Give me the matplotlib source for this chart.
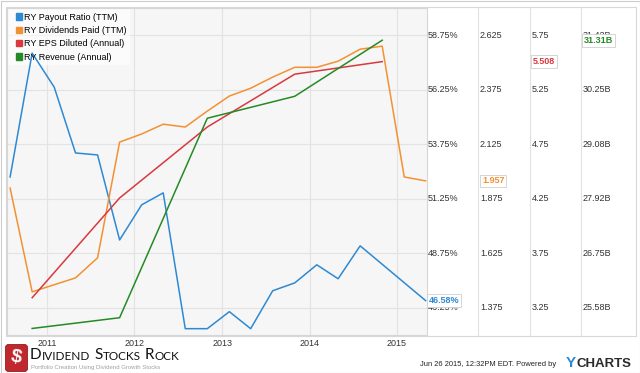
import numpy as np
import matplotlib.pyplot as plt
from matplotlib.patches import Patch, Rectangle, FancyBboxPatch
from matplotlib.transforms import blended_transform_factory

plt.rcParams['font.family'] = ['Liberation Sans', 'DejaVu Sans']

# quarterly payout ratio (%)
payout_dates = np.array(['2010-07-31', '2010-10-31', '2011-01-31', '2011-04-30', '2011-07-31',
                         '2011-10-31', '2012-01-31', '2012-04-30', '2012-07-31', '2012-10-31',
                         '2013-01-31', '2013-04-30', '2013-07-31', '2013-10-31', '2014-01-31',
                         '2014-04-30', '2014-07-31', '2015-04-30'], dtype='datetime64[D]')
payout = [52.25, 57.93, 56.37, 53.35, 53.26, 49.36, 50.97, 51.52, 45.29, 45.29,
          46.07, 45.29, 47.03, 47.39, 48.22, 47.58, 49.09, 46.58]

# dividends paid TTM
div_dates = np.array(['2010-07-31', '2010-10-31', '2011-04-30', '2011-07-31', '2011-10-31',
                      '2012-01-31', '2012-04-30', '2012-07-31', '2012-10-31', '2013-01-31',
                      '2013-04-30', '2013-07-31', '2013-10-31', '2014-01-31', '2014-04-30',
                      '2014-07-31', '2014-10-31', '2015-01-31', '2015-04-30'], dtype='datetime64[D]')
dividends = [1.924, 1.448, 1.512, 1.604, 2.135, 2.172, 2.217, 2.204, 2.277, 2.346,
             2.382, 2.433, 2.478, 2.478, 2.506, 2.561, 2.575, 1.975, 1.957]

# annual EPS and revenue (billions)
annual_dates = np.array(['2010-10-31', '2011-10-31', '2012-10-31', '2013-10-31', '2014-10-31'],
                        dtype='datetime64[D]')
eps = [3.342, 4.257, 4.908, 5.393, 5.508]
revenue = [25.14, 25.37, 29.64, 30.11, 31.31]

pct_ticks = [46.25, 48.75, 51.25, 53.75, 56.25, 58.75]
div_ticks = [1.375, 1.625, 1.875, 2.125, 2.375, 2.625]
eps_ticks = [3.25, 3.75, 4.25, 4.75, 5.25, 5.75]
rev_ticks = [25.58, 26.75, 27.92, 29.08, 30.25, 31.42]
years = ['2011', '2012', '2013', '2014', '2015']

labels = ['RY Payout Ratio (TTM)', 'RY Dividends Paid (TTM)', 'RY EPS Diluted (Annual)',
          'RY Revenue (Annual)']
colors = ['#2e89d3', '#f39132', '#d8393f', '#258a25']

W, H = 640, 373
fig = plt.figure(figsize=(6.4, 3.73), dpi=100)
fig.patch.set_facecolor('white')

L, R, T, B = 7, 427, 8, 335
ax = fig.add_axes([L / W, 1 - B / H, (R - L) / W, (B - T) / H])
ax.set_facecolor('#f6f6f6')
ax.set_axisbelow(True)

ax.plot(payout_dates, payout, color=colors[0], lw=1.1, zorder=3)
ax.set_ylim(45, 60)
ax.set_xlim(np.datetime64('2010-07-18'), np.datetime64('2015-05-06'))

ax_div = ax.twinx()
ax_div.plot(div_dates, dividends, color=colors[1], lw=1.1)
ax_div.set_ylim(1.25, 2.75)
ax_eps = ax.twinx()
ax_eps.plot(annual_dates, eps, color=colors[2], lw=1.1)
ax_eps.set_ylim(3.0, 6.0)
ax_rev = ax.twinx()
ax_rev.plot(annual_dates, revenue, color=colors[3], lw=1.1)
ax_rev.set_ylim(25.0, 32.0)
for t in (ax_div, ax_eps, ax_rev):
    t.set_axis_off()

ax.set_yticks(pct_ticks)
ax.tick_params(axis='y', left=False, labelleft=False)
ax.set_xticks([np.datetime64(y + '-01-01') for y in years])
ax.set_xticklabels(years)
ax.tick_params(axis='x', length=0, pad=3, labelsize=6.5, labelcolor='#333333')
ax.grid(True, color='#e3e3e3', lw=0.8)
for s in ax.spines.values():
    s.set_color('#d6d6d6')
    s.set_linewidth(0.8)

# lighter legend area
ax.add_patch(Rectangle((0, 1 - 57 / 327), 123 / 420, 57 / 327, transform=ax.transAxes,
                       fc='white', ec='none', alpha=0.6, zorder=1))
handles = [Patch(color=c, label=l) for c, l in zip(colors, labels)]
ax.legend(handles=handles, loc='upper left', bbox_to_anchor=(0.0143, 0.994), fontsize=6.5,
          frameon=False, handlelength=0.65, handleheight=0.65, handletextpad=0.25,
          borderpad=0.3, labelspacing=0.48, borderaxespad=0)

# right-hand value columns
col_x = [428, 480, 532, 583]
cols = [(ax, pct_ticks, '{:.2f}%'), (ax_div, div_ticks, '{:.3f}'),
        (ax_eps, eps_ticks, '{:.2f}'), (ax_rev, rev_ticks, '{:.2f}B')]
for (a, vals, fmt), cx in zip(cols, col_x):
    tr = blended_transform_factory(ax.transAxes, a.transData)
    for v in vals:
        a.text((cx - L) / (R - L), v, fmt.format(v), transform=tr, fontsize=6.5,
               color='#333333', ha='left', va='center', clip_on=False, zorder=4)

# last value badges
badges = [(ax, 429, payout[-1], '46.58%', colors[0]),
          (ax_div, 482, dividends[-1], '1.957', colors[1]),
          (ax_eps, 533, eps[-1], '5.508', colors[2]),
          (ax_rev, 584, revenue[-1], '31.31B', colors[3])]
for a, cx, v, s, c in badges:
    tr = blended_transform_factory(ax.transAxes, a.transData)
    a.text((cx - L) / (R - L), v, s, transform=tr, fontsize=6.5, color=c, fontweight='bold',
           ha='left', va='center', clip_on=False, zorder=10,
           bbox=dict(boxstyle='square,pad=0.2', fc='white', ec='#cfcfcf', lw=0.6))

# overlay for frame, separators and footer, in pixel coordinates
ov = fig.add_axes([0, 0, 1, 1], facecolor='none')
ov.set_xlim(0, W)
ov.set_ylim(H, 0)
ov.set_axis_off()
for x in [478, 530, 581]:
    ov.plot([x, x], [T, B], color='#e2e2e2', lw=0.8)
ov.add_patch(Rectangle((6, 7), 630, 329, fc='none', ec='#d8d8d8', lw=0.8))
ov.add_patch(Rectangle((0.5, 0.5), W - 1, H - 1, fc='none', ec='#cccccc', lw=0.8))

# Dividend Stocks Rock logo
ov.add_patch(FancyBboxPatch((7, 346), 19, 24, boxstyle='round,pad=1.5,rounding_size=3',
                            fc='#c0282d', ec='#8f1d20', lw=0.6))
ov.text(16.5, 358, '$', color='white', fontsize=14, fontweight='bold', ha='center',
        va='center', rotation=-10)
pieces = [('D', 11, 0), ('IVIDEND', 8.5, 0), ('S', 11, 3), ('TOCKS', 8.5, 0),
          ('R', 11, 3), ('OCK', 8.5, 0)]
prev = ov.text(30, 362, pieces[0][0], fontsize=pieces[0][1], family='Lato', color='#111111',
               ha='left', va='bottom')
for s, size, gap in pieces[1:]:
    prev = ov.annotate(s, xy=(1, 0), xycoords=prev, xytext=(gap, 0),
                       textcoords='offset points', fontsize=size, family='Lato',
                       color='#111111', ha='left', va='bottom')
ov.text(31, 367, 'Portfolio Creation Using Dividend Growth Stocks', fontsize=4.3,
        color='#a0a0a0', ha='left', va='center')

ov.text(556, 366, 'Jun 26 2015, 12:32PM EDT. Powered by', fontsize=5.4, color='#222222',
        ha='right', va='baseline')
y_txt = ov.text(566, 367, 'Y', fontsize=11, fontweight='bold', color='#2a8ad4',
                ha='left', va='baseline')
ov.annotate('CHARTS', xy=(1, 0), xycoords=y_txt, xytext=(0.3, 0), textcoords='offset points',
            fontsize=9.5, fontweight='bold', color='#2b2b2b', ha='left', va='bottom')

fig.savefig('out.png', dpi=100)
